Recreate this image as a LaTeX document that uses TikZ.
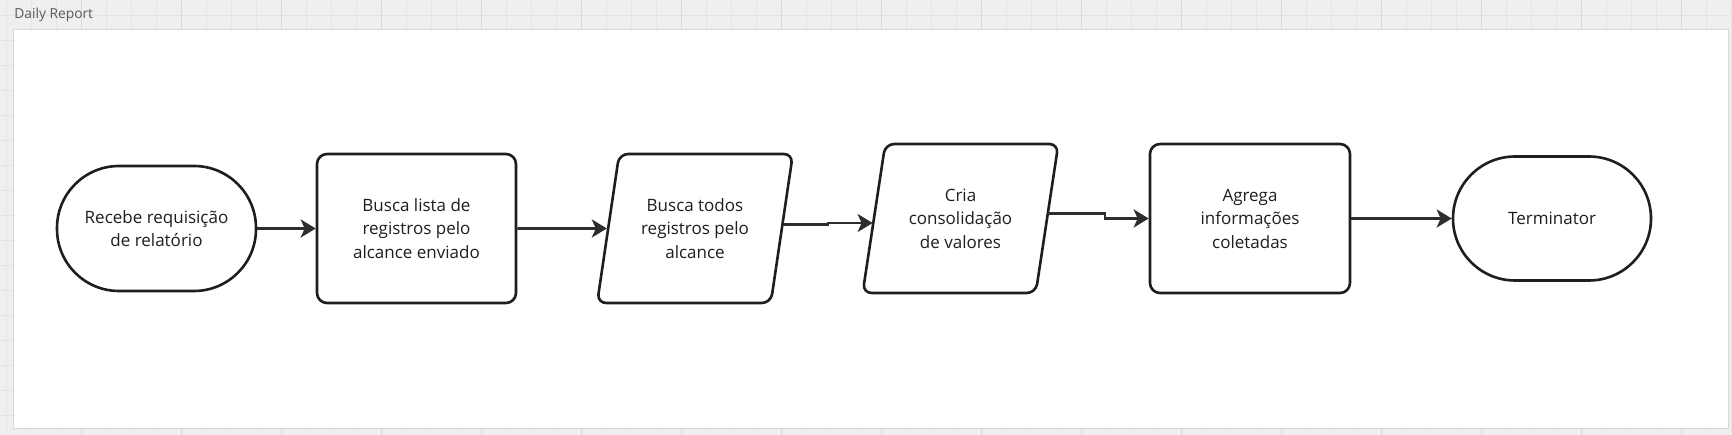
\documentclass[tikz,border=0pt]{standalone}
\usepackage{fontspec}
\setmainfont{Open Sans}
\definecolor{mybg}{RGB}{239,239,239}
\definecolor{mygrid}{RGB}{228,228,228}
\definecolor{mymajor}{RGB}{218,218,218}
\definecolor{myframe}{RGB}{216,216,216}
\definecolor{myline}{RGB}{30,30,30}
\definecolor{myarrow}{RGB}{45,45,45}
\definecolor{mytitle}{RGB}{90,90,90}
\usetikzlibrary{shapes.geometric,arrows.meta,calc}

\begin{document}
\begin{tikzpicture}[x=1pt,y=-1pt,
    every node/.style={draw=myline,line width=2.6pt,align=center,text=myline,
      font=\fontsize{17}{23.5}\selectfont},
    tnode/.style={rectangle,rounded corners=62},
    pnode/.style={rectangle,rounded corners=10},
    dnode/.style={trapezium,trapezium left angle=76,trapezium right angle=104,
      trapezium stretches=true,rounded corners=9,minimum height=149},
    arrow/.style={draw=myarrow,line width=2.8pt,-{Stealth[length=15pt,width=18pt,inset=4pt]}}
    ]

    % the board
    \useasboundingbox (0,0) rectangle (1732,435);
    \fill[mybg] (0,0) rectangle (1732,435);
    \foreach \x in {6.7,31.7,...,1732} \draw[mygrid,line width=0.8pt] (\x,0) -- (\x,435);
    \foreach \y in {15,40,...,435} \draw[mygrid,line width=0.8pt] (0,\y) -- (1732,\y);
    \foreach \x in {81.7,181.7,...,1732} \draw[mymajor,line width=0.8pt] (\x,0) -- (\x,435);
    \draw[myframe,fill=white,line width=1pt] (13,30) rectangle (1728,428);
    \node[draw=none,anchor=west,text=mytitle,font=\fontsize{13.8}{15}\selectfont,inner sep=0pt] (title) at (13,15) {Daily Report};

    % the steps
    \node[tnode,minimum width=199,minimum height=125] (recebe) at (156.5,228.5) {Recebe requisição\\de relatório};
    \node[pnode,minimum width=199,minimum height=149] (busca) at (416.5,228.5) {Busca lista de\\registros pelo\\alcance enviado};
    \node[dnode,minimum width=196] (todos) at (695,228.5) {Busca todos\\registros pelo\\alcance};
    \node[dnode,minimum width=196] (cria) at (960.5,218.5) {Cria\\consolidação\\de valores};
    \node[pnode,minimum width=200,minimum height=149] (agrega) at (1250,218.5) {Agrega\\informações\\coletadas};
    \node[tnode,minimum width=198,minimum height=124] (fim) at (1552,218.5) {Terminator};

    % the arrows
    \coordinate (j1) at (828,224.5);
    \coordinate (j2) at (1105,213.3);
    \draw[arrow] (recebe) -- (busca);
    \draw[arrow] (busca) -- (todos);
    \draw[arrow] (todos.east |- j1) -- (j1) |- ([yshift=-4.5pt]cria.west);
    \draw[arrow] (cria.east |- j2) -- (j2) |- (agrega);
    \draw[arrow] (agrega) -- (fim);

\end{tikzpicture}
\end{document}
